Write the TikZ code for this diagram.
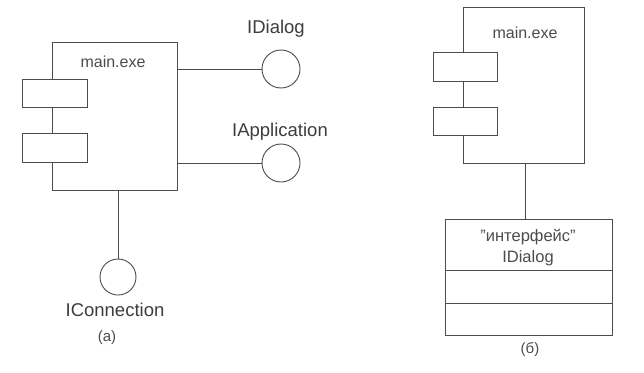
\documentclass[tikz,border=0pt]{standalone}
\usepackage{fontspec}
\setmainfont{Liberation Sans}
\usetikzlibrary{positioning}
\definecolor{ink}{gray}{0.3}
\tikzset{
  box/.style={draw=ink,line width=0.9pt,inner sep=0pt,outer sep=0pt,anchor=north west},
  port/.style={box,fill=white},
  iface/.style={draw=ink,line width=0.9pt,circle,inner sep=0pt,minimum size=38pt},
  lbl/.style={text=ink,font=\fontsize{16}{20}\selectfont},
  ifacelbl/.style={text=ink!80!black,font=\fontsize{18.5}{22}\selectfont},
  sublbl/.style={text=ink,font=\fontsize{15}{18}\selectfont}
}
\begin{document}
\begin{tikzpicture}[x=1pt,y=-1pt]
	\useasboundingbox[fill=white](0,0)rectangle(644,372);
	% (a) component with interfaces
	\node[box,minimum width=125pt,minimum height=148pt](compA)at(52,42){};
	\node[port,minimum width=65pt,minimum height=28pt](portA1)at(22,79){};
	\node[port,minimum width=65pt,minimum height=29pt](portA2)at(22,133){};
	\node[lbl](nameA)at(113,62){main.exe};
	\node[iface](dlgA)at(281,69){};
	\node[iface](appA)at(281,163){};
	\node[iface,minimum size=36pt](conA)at(118,277){};
	\draw[ink,line width=0.9pt](dlgA.west-|compA.east)--(dlgA.west);
	\draw[ink,line width=0.9pt](appA.west-|compA.east)--(appA.west);
	\draw[ink,line width=0.9pt](conA.north|-compA.south)--(conA.north);
	\node[ifacelbl](dlgLbl)at(276,29){IDialog};
	\node[ifacelbl](appLbl)at(280,132){IApplication};
	\node[ifacelbl](conLbl)at(115,310){IConnection};
	\node[sublbl](subA)at(107,338){(a)};
	% (b) component and interface class
	\node[box,minimum width=121pt,minimum height=156pt](compB)at(463,7){};
	\node[port,minimum width=64pt,minimum height=29pt](portB1)at(433,52){};
	\node[port,minimum width=64pt,minimum height=28pt](portB2)at(433,107){};
	\node[lbl](nameB)at(525,33){main.exe};
	\node[box,minimum width=167pt,minimum height=51pt](clsHead)at(445,219){};
	\node[box,minimum width=167pt,minimum height=33pt](clsAttr)at(clsHead.south west){};
	\node[box,minimum width=167pt,minimum height=32pt](clsOps)at(clsAttr.south west){};
	\node[lbl,align=center,font=\fontsize{16.5}{21}\selectfont](clsName)at(528,248){"интерфейс"\\IDialog};
	\draw[ink,line width=0.9pt](clsHead.north-|nameB)--(nameB|-compB.south);
	\node[sublbl](subB)at(530,350){(б)};
\end{tikzpicture}
\end{document}
